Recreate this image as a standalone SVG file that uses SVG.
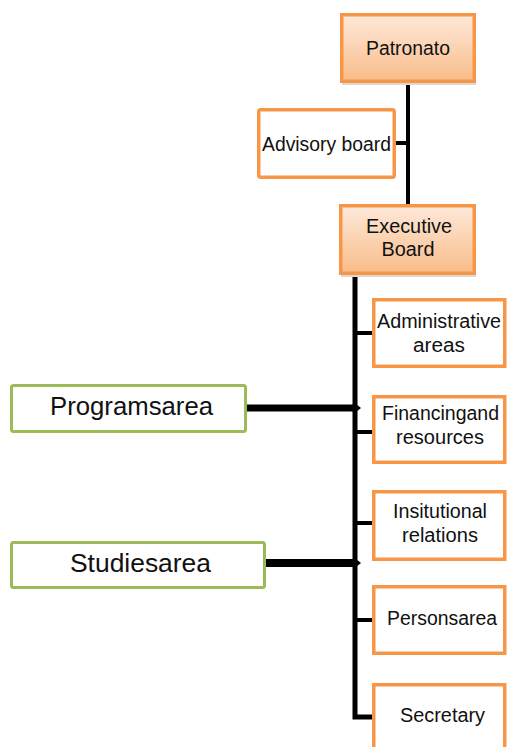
<svg xmlns="http://www.w3.org/2000/svg" width="507" height="747" viewBox="0 0 507 747">
  <defs>
    <linearGradient id="peach" x1="0" y1="0" x2="0" y2="1">
      <stop offset="0" stop-color="#FEE9DA"/>
      <stop offset="1" stop-color="#F9BC88"/>
    </linearGradient>
    <marker id="tip" markerUnits="userSpaceOnUse" markerWidth="8" markerHeight="12" refX="2" refY="6" orient="auto">
      <path d="M0,0.5 L7,6 L0,11.5 Z" fill="#000"/>
    </marker>
  </defs>
  <style>
    text { font-family: "Liberation Sans", Arial, sans-serif; fill: #111; text-anchor: middle; }
    .t { font-size: 20px; }
    .big { font-size: 25px; }
    .box { fill: #fff; stroke: #F79646; stroke-width: 3.5; }
    .head { fill: url(#peach); stroke: #F79646; stroke-width: 3.5; }
    .shade { fill: #d9d9d9; }
    .area { fill: #fff; stroke: #9BBB59; stroke-width: 3; }
    .wire { stroke: #000; fill: none; }
  </style>

  <!-- connectors -->
  <g id="connectors">
    <line class="wire" x1="408" y1="83" x2="408" y2="205" stroke-width="4"/>
    <line class="wire" x1="396" y1="143" x2="408" y2="143" stroke-width="4"/>
    <path class="wire" d="M355,276 V717 H373" stroke-width="5"/>
    <line class="wire" x1="355" y1="333" x2="373" y2="333" stroke-width="4"/>
    <line class="wire" x1="355" y1="432" x2="373" y2="432" stroke-width="4"/>
    <line class="wire" x1="355" y1="523" x2="373" y2="523" stroke-width="4"/>
    <line class="wire" x1="355" y1="620" x2="373" y2="620" stroke-width="4"/>
    <line class="wire" x1="247" y1="408" x2="356" y2="408" stroke-width="7" marker-end="url(#tip)"/>
    <line class="wire" x1="266" y1="563" x2="356" y2="563" stroke-width="8" marker-end="url(#tip)"/>
  </g>

  <g id="patronato">
    <rect class="shade" x="342" y="82" width="134" height="3"/>
    <rect class="head" x="341.75" y="14.75" width="132.5" height="66.5"/>
    <text class="t" x="408" y="55" textLength="84" lengthAdjust="spacingAndGlyphs">Patronato</text>
  </g>

  <g id="advisory-board">
    <rect class="box" x="258.75" y="109.75" width="135.5" height="67.5" rx="2"/>
    <text class="t" x="326.5" y="151" textLength="129" lengthAdjust="spacingAndGlyphs">Advisory board</text>
  </g>

  <g id="executive-board">
    <rect class="shade" x="341" y="274" width="135" height="3"/>
    <rect class="head" x="340.75" y="205.75" width="133.5" height="67.5"/>
    <text class="t" x="409" y="233" textLength="86" lengthAdjust="spacingAndGlyphs">Executive</text>
    <text class="t" x="408" y="256" textLength="53" lengthAdjust="spacingAndGlyphs">Board</text>
  </g>

  <g id="administrative-areas">
    <rect class="box" x="373.75" y="299.75" width="131" height="66.5"/>
    <text class="t" x="439" y="328" textLength="124" lengthAdjust="spacingAndGlyphs">Administrative</text>
    <text class="t" x="439" y="352" textLength="52" lengthAdjust="spacingAndGlyphs">areas</text>
  </g>

  <g id="financing-resources">
    <rect class="box" x="373.75" y="396.75" width="131" height="65.5"/>
    <text class="t" x="440.5" y="420" textLength="117" lengthAdjust="spacingAndGlyphs">Financingand</text>
    <text class="t" x="440" y="444" textLength="88" lengthAdjust="spacingAndGlyphs">resources</text>
  </g>

  <g id="institutional-relations">
    <rect class="box" x="373.75" y="491.75" width="131" height="67.5"/>
    <text class="t" x="440" y="518" textLength="94" lengthAdjust="spacingAndGlyphs">Insitutional</text>
    <text class="t" x="440" y="542" textLength="76" lengthAdjust="spacingAndGlyphs">relations</text>
  </g>

  <g id="persons-area">
    <rect class="box" x="373.75" y="586.75" width="131" height="66.5"/>
    <text class="t" x="442" y="625" textLength="110" lengthAdjust="spacingAndGlyphs">Personsarea</text>
  </g>

  <g id="secretary">
    <rect class="box" x="373.75" y="684.75" width="131" height="66"/>
    <text class="t" x="442.5" y="722" textLength="85" lengthAdjust="spacingAndGlyphs">Secretary</text>
  </g>

  <g id="programs-area">
    <rect class="area" x="11.5" y="385.5" width="234" height="46" rx="2"/>
    <text class="big" x="131.5" y="415" textLength="163" lengthAdjust="spacingAndGlyphs">Programsarea</text>
  </g>

  <g id="studies-area">
    <rect class="area" x="11.5" y="542.5" width="253" height="45" rx="2"/>
    <text class="big" x="140.5" y="572" textLength="141" lengthAdjust="spacingAndGlyphs">Studiesarea</text>
  </g>
</svg>
